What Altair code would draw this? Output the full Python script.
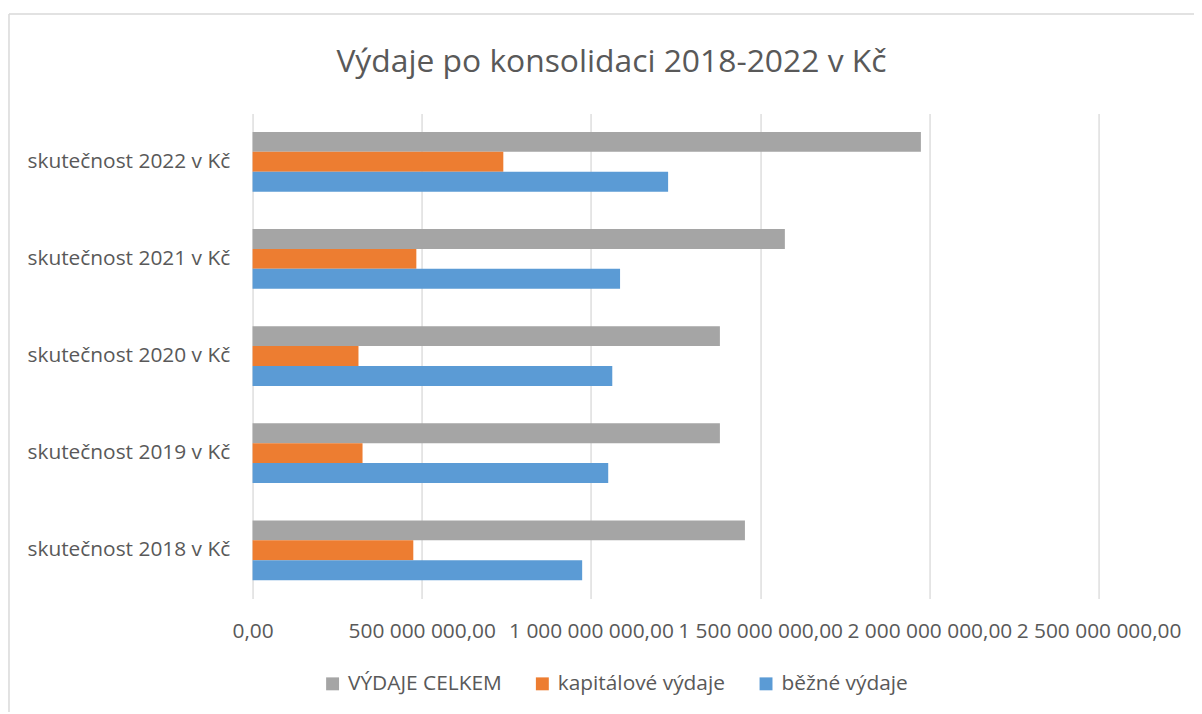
import altair as alt
import pandas as pd

categories = [
    "skutečnost 2018 v Kč",
    "skutečnost 2019 v Kč",
    "skutečnost 2020 v Kč",
    "skutečnost 2021 v Kč",
    "skutečnost 2022 v Kč",
]
series = ["VÝDAJE CELKEM", "kapitálové výdaje", "běžné výdaje"]
total = [1455e6, 1381e6, 1381e6, 1573e6, 1975e6]
capital = [475e6, 325e6, 313e6, 484e6, 741e6]
current = [974e6, 1051e6, 1063e6, 1086e6, 1228e6]
colors = ["#A5A5A5", "#ED7D31", "#5B9BD5"]
x_ticks = [0, 500e6, 1000e6, 1500e6, 2000e6, 2500e6]
title_text = "Výdaje po konsolidaci 2018-2022 v Kč"

rows = []
for i, c in enumerate(categories):
    for s, vals in zip(series, [total, capital, current]):
        rows.append({"kategorie": c, "řada": s, "hodnota": vals[i]})
df = pd.DataFrame(rows)

FONT = "Open Sans"
GREY = "#595959"

bars = alt.Chart(df).mark_bar(size=20).encode(
    y=alt.Y(
        "kategorie:N",
        sort=list(reversed(categories)),
        scale=alt.Scale(paddingInner=0.385, paddingOuter=0.19),
        axis=alt.Axis(
            title=None, ticks=False, domain=False, labelFont=FONT,
            labelFontSize=21, labelColor=GREY, labelPadding=23, labelLimit=400,
        ),
    ),
    yOffset=alt.YOffset("řada:N", sort=series),
    x=alt.X(
        "hodnota:Q",
        scale=alt.Scale(domain=[0, 2500e6], nice=False),
        axis=alt.Axis(
            title=None, values=x_ticks, ticks=False, domain=False,
            labelFont=FONT, labelFontSize=21, labelColor=GREY,
            labelPadding=22, labelOverlap=False, labelFlush=False,
            gridColor="#D9D9D9", gridWidth=1.3,
            labelExpr="replace(replace(format(datum.value, ',.2f'), regexp(',', 'g'), ' '), '.', ',')",
        ),
    ),
    color=alt.Color(
        "řada:N",
        sort=series,
        scale=alt.Scale(domain=series, range=colors),
        legend=alt.Legend(
            title=None, orient="none", direction="horizontal",
            legendX=70, legendY=563, symbolType="square", symbolSize=169,
            symbolStrokeWidth=0, labelFont=FONT, labelFontSize=21,
            labelColor=GREY, columnPadding=30, labelOffset=5, padding=0,
            labelLimit=400,
        ),
    ),
)

single = pd.DataFrame({"t": [title_text]})
title_mark = alt.Chart(single).mark_text(
    font=FONT, fontSize=32, color=GREY, align="center", baseline="alphabetic"
).encode(x=alt.value(361), y=alt.value(-42), text="t:N")

top_line = alt.Chart(single).mark_rule(color="#D9D9D9", strokeWidth=1.5).encode(
    x=alt.value(-245), x2=alt.value(948), y=alt.value(-100)
)
left_line = alt.Chart(single).mark_rule(color="#D9D9D9", strokeWidth=1.5).encode(
    x=alt.value(-245), y=alt.value(-100), y2=alt.value(602)
)

chart = alt.layer(top_line, left_line, title_mark, bars).properties(
    width=851,
    height=488,
    autosize=alt.AutoSizeParams(type="none"),
    padding={"left": 246, "top": 104, "right": 96, "bottom": 114},
).configure_view(stroke=None)

chart.save("out.html", embed_options={"renderer": "svg", "actions": False})
